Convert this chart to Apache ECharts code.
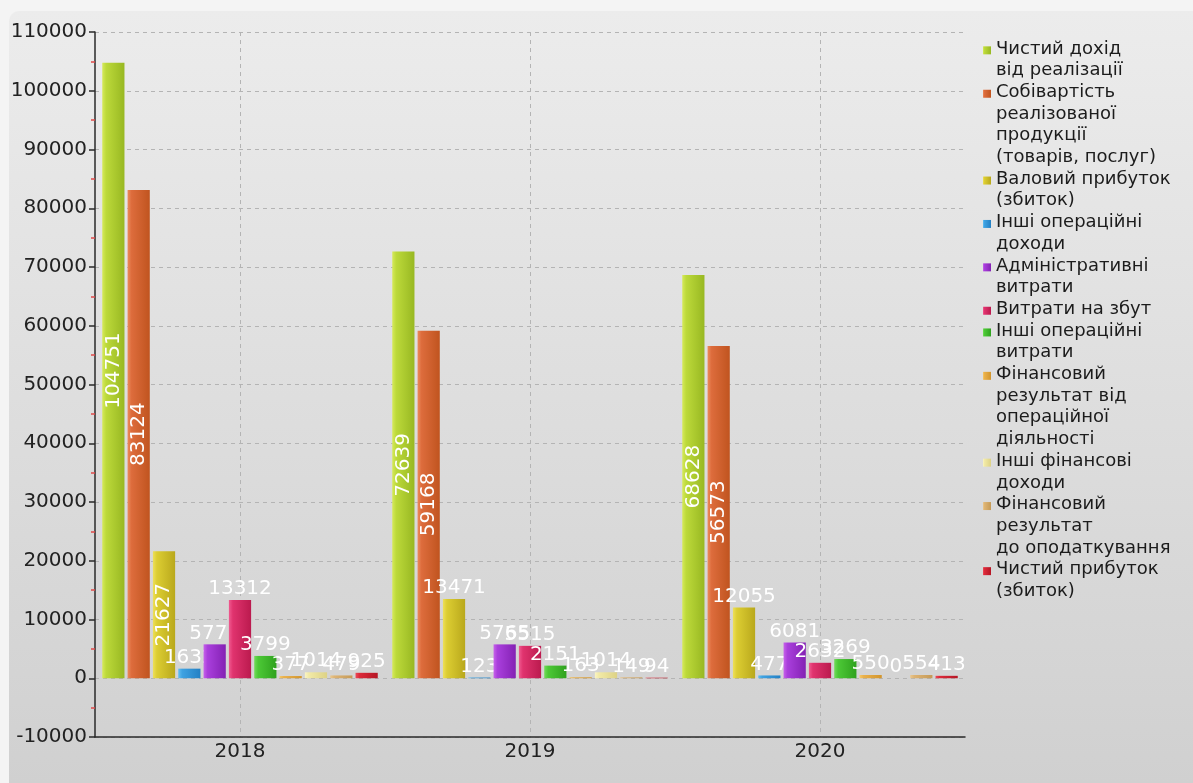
<!DOCTYPE html>
<html>
<head>
<meta charset="utf-8">
<script src="https://cdn.jsdelivr.net/npm/echarts@6/dist/echarts.min.js"></script>
<style>
  html, body { margin: 0; padding: 0; background: #f4f4f4; }
  #chart { width: 1193px; height: 783px; }
</style>
</head>
<body>
<div id="chart"></div>
<script>
// Categories (reporting years)
const years = ['2018', '2019', '2020'];

// Series names as they appear in the legend (line breaks kept)
const seriesNames = [
  'Чистий дохід\nвід реалізації',
  'Собівартість\nреалізованої\nпродукції\n(товарів, послуг)',
  'Валовий прибуток\n(збиток)',
  'Інші операційні\nдоходи',
  'Адміністративні\nвитрати',
  'Витрати на збут',
  'Інші операційні\nвитрати',
  'Фінансовий\nрезультат від\nопераційної\nдіяльності',
  'Інші фінансові\nдоходи',
  'Фінансовий\nрезультат\nдо оподаткування',
  'Чистий прибуток\n(збиток)'
];

// Values, thousand UAH, one array per indicator (2018, 2019, 2020)
const netRevenue       = [104751, 72639, 68628];
const costOfSales      = [83124, 59168, 56573];
const grossProfit      = [21627, 13471, 12055];
const otherOpIncome    = [1632, 123, 477];
const adminExpenses    = [5771, 5765, 6081];
const sellingExpenses  = [13312, 5515, 2632];
const otherOpExpenses  = [3799, 2151, 3269];
const operatingResult  = [377, 163, 550];
const otherFinIncome   = [1014, 1014, 0];
const preTaxResult     = [479, 149, 554];
const netProfit        = [925, 94, 413];

const seriesValues = [
  netRevenue, costOfSales, grossProfit, otherOpIncome, adminExpenses,
  sellingExpenses, otherOpExpenses, operatingResult, otherFinIncome,
  preTaxResult, netProfit
];

// Value axis range and step
const yMin = -10000;
const yMax = 110000;
const yStep = 10000;

// Bar colours: [light edge, body, dark edge]
const seriesColors = [
  ['#d6ea5a', '#bcd93a', '#98b822'],
  ['#eb8a5c', '#dd6c3c', '#c0541f'],
  ['#eee05a', '#dccd32', '#b9a81c'],
  ['#64bff0', '#3ea2e2', '#2380c4'],
  ['#c762ea', '#a93fdc', '#8421b4'],
  ['#f05a90', '#e0336e', '#bb1a4e'],
  ['#72dc5a', '#4cc836', '#2fa21e'],
  ['#f6c866', '#eab04a', '#d2952c'],
  ['#faf4c4', '#f2eaa6', '#ddd286'],
  ['#ebc88e', '#deb474', '#c59a56'],
  ['#ec4a58', '#dc2a3a', '#b51624']
];

const FONT = 'DejaVu Sans';
const LEGEND_LINE = 21.7;

function barGradient(c) {
  return {
    type: 'linear', x: 0, y: 0, x2: 1, y2: 0,
    colorStops: [
      { offset: 0, color: c[0] },
      { offset: 0.18, color: c[1] },
      { offset: 1, color: c[2] }
    ]
  };
}

// Legend swatch sits beside the first text line of a multi-line entry
function legendIcon(name) {
  const n = name.split('\n').length;
  const shift = 1.5;
  const c = 4 + (n - 1) * LEGEND_LINE / 2 - shift;
  const half = Math.max(c, 8 - c);
  return 'path://M0,0L8,0L8,8L0,8Z' +
    'M0,' + (c - half).toFixed(2) + 'M0,' + (c + half).toFixed(2);
}

const topLabel = { position: 'top', rotate: 0 };
const innerLabel = { position: 'inside', rotate: 90 };

const series = seriesValues.map((vals, i) => ({
  name: seriesNames[i],
  type: 'bar',
  z: 10 + i,
  barGap: '14%',
  barCategoryGap: '5%',
  itemStyle: { color: barGradient(seriesColors[i]) },
  label: {
    show: true,
    color: '#ffffff',
    fontFamily: FONT,
    fontSize: 20,
    distance: 1
  },
  data: vals.map(v => ({
    value: v,
    label: v >= 20000 ? innerLabel : topLabel
  }))
}));

const chart = echarts.init(document.getElementById('chart'), null, { renderer: 'canvas' });

chart.setOption({
  animation: false,
  backgroundColor: 'transparent',
  graphic: [{
    type: 'rect',
    z: -10,
    silent: true,
    shape: { x: 9, y: 11, width: 1200, height: 800, r: 10 },
    style: {
      fill: {
        type: 'linear', x: 0, y: 0, x2: 0, y2: 1,
        colorStops: [
          { offset: 0, color: '#ececec' },
          { offset: 1, color: '#cfcfcf' }
        ]
      }
    }
  }],
  legend: {
    orient: 'vertical',
    left: 983,
    top: 38,
    padding: 0,
    itemGap: 0,
    itemWidth: 8,
    itemHeight: 80,
    align: 'left',
    selectedMode: false,
    textStyle: {
      fontFamily: FONT,
      fontSize: 18,
      color: '#1c1c1c',
      lineHeight: LEGEND_LINE
    },
    data: seriesNames.map(n => ({ name: n, icon: legendIcon(n) }))
  },
  grid: { left: 95, right: 228, top: 32, bottom: 46 },
  xAxis: {
    type: 'category',
    data: years,
    axisLine: { onZero: false, lineStyle: { color: '#2a2a2a', width: 1.5 } },
    axisTick: { alignWithLabel: true, length: 6, lineStyle: { color: '#2a2a2a', width: 1.5 } },
    axisLabel: { fontFamily: FONT, fontSize: 20, color: '#222', margin: 5 },
    splitLine: {
      show: true,
      alignWithLabel: true,
      lineStyle: { color: '#b4b4b4', type: [4, 4] }
    }
  },
  yAxis: {
    type: 'value',
    min: yMin,
    max: yMax,
    interval: yStep,
    axisLine: { show: true, lineStyle: { color: '#2a2a2a', width: 1.5 } },
    axisTick: { show: true, length: 6, lineStyle: { color: '#2a2a2a', width: 1.5 } },
    minorTick: { show: true, splitNumber: 2, length: 4, lineStyle: { color: '#e04a4a', width: 1.5 } },
    axisLabel: {
      fontFamily: FONT, fontSize: 20, color: '#222', margin: 8,
      formatter: v => String(v)
    },
    splitLine: { show: true, lineStyle: { color: '#b4b4b4', type: [4, 4] } }
  },
  series: series
});
</script>
</body>
</html>
